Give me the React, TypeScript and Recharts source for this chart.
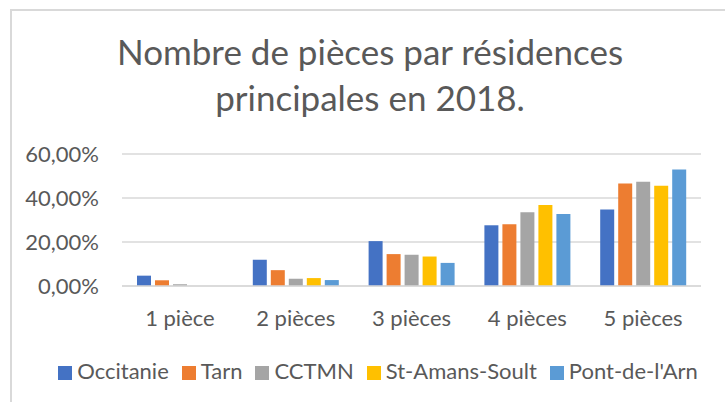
import { BarChart, Bar, XAxis, YAxis, CartesianGrid, Legend } from "recharts";

const categories = ["1 pièce", "2 pièces", "3 pièces", "4 pièces", "5 pièces"];
const occitanie = [4.7, 11.9, 20.4, 27.6, 34.8];
const tarn = [2.6, 7.2, 14.5, 28.1, 46.6];
const cctmn = [0.8, 3.3, 14.2, 33.5, 47.4];
const stAmansSoult = [0, 3.6, 13.4, 36.8, 45.6];
const pontDeLArn = [0, 2.7, 10.5, 32.7, 52.9];
const yTicks = [0, 20, 40, 60];

const SERIES = [
  { key: "Occitanie", values: occitanie, color: "#4472C4" },
  { key: "Tarn", values: tarn, color: "#ED7D31" },
  { key: "CCTMN", values: cctmn, color: "#A5A5A5" },
  { key: "St-Amans-Soult", values: stAmansSoult, color: "#FFC000" },
  { key: "Pont-de-l'Arn", values: pontDeLArn, color: "#5B9BD5" },
];

const data = categories.map((cat, i) => {
  const row: Record<string, string | number> = { cat };
  SERIES.forEach((s) => (row[s.key] = s.values[i]));
  return row;
});

const FONT = "Lato, 'Open Sans', sans-serif";
const TEXT = "#595959";
const GRID = "#D9D9D9";

const fmtPct = (v: number) => `${v.toFixed(2).replace(".", ",")}%`;

export default function App() {
  return (
    <div style={{ position: "fixed", left: 0, top: 0, width: 725, height: 402, overflow: "hidden", background: "#fff", fontFamily: FONT }}>
      {/* chart frame, right/bottom edges fall outside the picture */}
      <div style={{ position: "absolute", left: 10, top: 9, width: 740, height: 420, border: `2px solid ${GRID}` }} />
      <div style={{ position: "absolute", left: 15, top: 28, width: 710, textAlign: "center", color: TEXT, fontSize: 35, lineHeight: "46px" }}>
        Nombre de pièces par résidences
        <br />
        principales en 2018.
      </div>
      <div style={{ position: "absolute", left: 0, top: 0 }}>
        <BarChart
          width={725}
          height={402}
          data={data}
          margin={{ top: 154, right: 24, left: 0, bottom: 0 }}
          barCategoryGap={15}
          barGap={4}
        >
          <CartesianGrid vertical={false} stroke={GRID} strokeWidth={1.5} />
          <XAxis
            dataKey="cat"
            height={60}
            tickLine={false}
            tickSize={0}
            tickMargin={24}
            axisLine={{ stroke: GRID, strokeWidth: 1.5 }}
            tick={{ fontSize: 22, fill: TEXT, fontFamily: FONT }}
          />
          <YAxis
            domain={[0, 60]}
            ticks={yTicks}
            width={122}
            tickLine={false}
            tickSize={0}
            tickMargin={23}
            axisLine={false}
            tickFormatter={fmtPct}
            tick={{ fontSize: 22, fill: TEXT, fontFamily: FONT }}
          />
          <Legend
            verticalAlign="bottom"
            iconType="square"
            iconSize={14}
            height={56}
            itemSorter={(item: any) => SERIES.findIndex((s) => s.key === item.value)}
            wrapperStyle={{ fontSize: 22, fontFamily: FONT, top: 357, left: 34, lineHeight: "28px" }}
            formatter={(v) => <span style={{ color: TEXT, marginLeft: 1, marginRight: 3 }}>{v}</span>}
          />
          {SERIES.map((s) => (
            <Bar key={s.key} dataKey={s.key} fill={s.color} isAnimationActive={false} />
          ))}
        </BarChart>
      </div>
    </div>
  );
}
